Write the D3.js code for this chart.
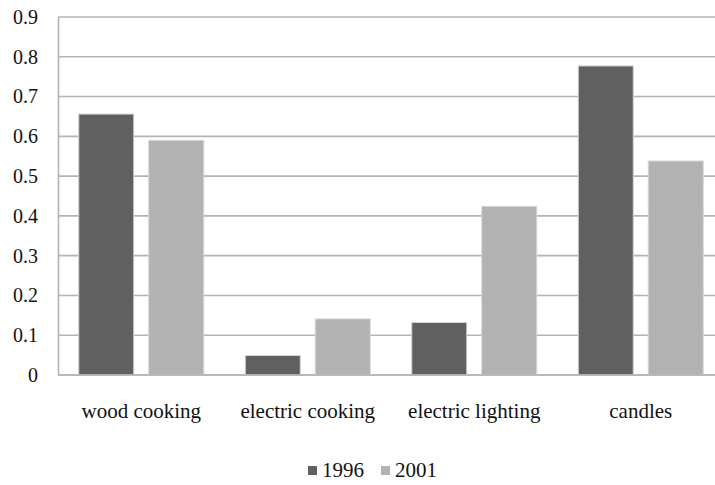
<!DOCTYPE html>
<html>
<head>
<meta charset="utf-8">
<script src="https://cdn.jsdelivr.net/npm/d3@7"></script>
<style>
  html, body { margin: 0; padding: 0; background: #fff; }
  svg { display: block; }
  svg text { font-family: "Liberation Serif", "DejaVu Serif", serif !important; }
</style>
</head>
<body>
<svg id="chart" width="715" height="485"></svg>
<script>
// Household energy use shares by purpose, 1996 vs 2001
const categories = ["wood cooking", "electric cooking", "electric lighting", "candles"];
const seriesNames = ["1996", "2001"];
const values1996 = [0.656, 0.049, 0.132, 0.777];
const values2001 = [0.590, 0.141, 0.424, 0.538];
const yTicks = [0, 0.1, 0.2, 0.3, 0.4, 0.5, 0.6, 0.7, 0.8, 0.9];
const colors = ["#606060", "#b2b2b2"];

const seriesValues = [values1996, values2001];
const svg = d3.select("#chart");

const plotLeft = 58, plotRight = 724, plotTop = 17, plotBottom = 375;

const x0 = d3.scaleBand().domain(categories).range([plotLeft, plotRight]).padding(0);
const x1 = d3.scaleBand().domain(seriesNames)
  .range([20.75, x0.bandwidth() - 20.75]).paddingInner(0.214).paddingOuter(0);
const y = d3.scaleLinear().domain([0, 0.9]).range([plotBottom, plotTop]);

// horizontal gridlines
svg.append("g").selectAll("line").data(yTicks).join("line")
  .attr("x1", plotLeft).attr("x2", plotRight)
  .attr("y1", d => y(d)).attr("y2", d => y(d))
  .attr("stroke", "#b3b3b3").attr("stroke-width", 1.6);

// y axis with labels
const yAxis = d3.axisLeft(y).tickValues(yTicks).tickSize(0).tickPadding(20)
  .tickFormat(d => d === 0 ? "0" : d3.format(".1f")(d));
const gy = svg.append("g").attr("transform", `translate(${plotLeft},0)`).call(yAxis);
gy.attr("font-family", null).attr("font-size", null);
gy.select(".domain").attr("stroke", "#b3b3b3").attr("stroke-width", 1.6);
gy.selectAll("text").style("font-size", "20px").attr("fill", "#111");

// bars
const groups = svg.append("g").selectAll("g").data(categories).join("g")
  .attr("transform", d => `translate(${x0(d)},0)`);
groups.selectAll("rect")
  .data((c, i) => seriesNames.map((s, k) => ({ s, v: seriesValues[k][i], k })))
  .join("rect")
  .attr("x", d => x1(d.s))
  .attr("width", x1.bandwidth())
  .attr("y", d => y(d.v))
  .attr("height", d => y(0) - y(d.v))
  .attr("fill", d => colors[d.k])
  .attr("stroke", "#d6d6d6").attr("stroke-width", 1);

// baseline on top of bars
svg.append("line").attr("x1", plotLeft).attr("x2", plotRight)
  .attr("y1", y(0)).attr("y2", y(0))
  .attr("stroke", "#b3b3b3").attr("stroke-width", 1.6);

// category labels
const xAxis = d3.axisBottom(x0).tickSize(0).tickPadding(28);
const gx = svg.append("g").attr("transform", `translate(0,${plotBottom})`).call(xAxis);
gx.attr("font-family", null).attr("font-size", null);
gx.select(".domain").remove();
gx.selectAll("text").style("font-size", "21px").attr("fill", "#111");

// legend
const legend = svg.append("g");
const legendX = [308, 381];
seriesNames.forEach((s, k) => {
  const g = legend.append("g").attr("transform", `translate(${legendX[k]},0)`);
  g.append("rect").attr("x", 0).attr("y", 466).attr("width", 9).attr("height", 9)
    .attr("fill", colors[k]);
  g.append("text").attr("x", 14).attr("y", 477).style("font-size", "21px")
    .attr("fill", "#111").text(s);
});
</script>
</body>
</html>
